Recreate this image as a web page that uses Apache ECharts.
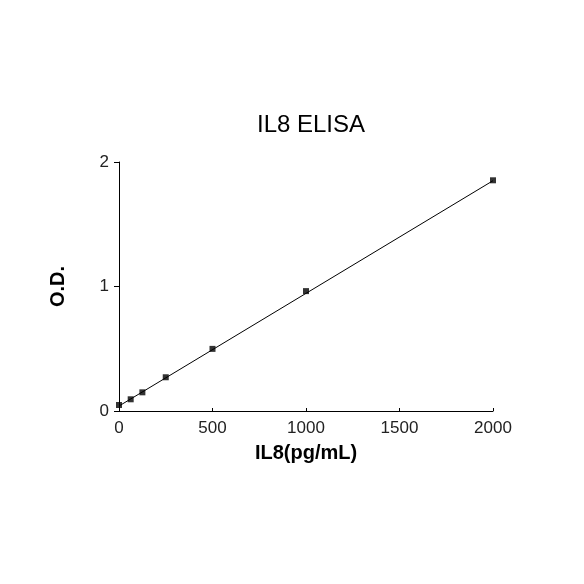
<!DOCTYPE html>
<html>
<head>
<meta charset="utf-8">
<script src="https://cdn.jsdelivr.net/npm/echarts@6/dist/echarts.min.js"></script>
<style>
  html, body { margin: 0; padding: 0; background: #fff; }
  #main { width: 584px; height: 584px; }
</style>
</head>
<body>
<div id="main"></div>
<script>
// standard concentrations (pg/mL) and measured O.D.
const concentrations = [0, 62.5, 125, 250, 500, 1000, 2000]
const odValues = [0.048, 0.094, 0.15, 0.271, 0.499, 0.963, 1.853]
// fitted line, ends
const fitX = [0, 2000]
const fitY = [0.04, 1.85]
const xTicks = [0, 500, 1000, 1500, 2000]
const yTicks = [0, 1, 2]

const font = 'Liberation Sans, Arial, sans-serif'

const chart = echarts.init(document.getElementById('main'), null, { renderer: 'canvas' })

chart.setOption({
    backgroundColor: '#fff',
    animation: false,
    title: {
        text: 'IL8 ELISA',
        left: 306,
        top: 108,
        textAlign: 'center',
        textStyle: { fontFamily: font, fontSize: 24, fontWeight: 'normal', color: '#000' }
    },
    grid: { left: 119, right: 91, top: 162, bottom: 173 },
    xAxis: {
        type: 'value',
        min: xTicks[0],
        max: xTicks[xTicks.length - 1],
        interval: 500,
        name: 'IL8(pg/mL)',
        nameLocation: 'middle',
        nameGap: 32,
        nameTextStyle: { fontFamily: font, fontSize: 20, fontWeight: 'bold', color: '#000' },
        axisLine: { lineStyle: { color: '#000', width: 1 } },
        axisTick: { inside: true, length: 3, lineStyle: { color: '#000' } },
        axisLabel: { fontFamily: font, fontSize: 17, color: '#222', margin: 9, formatter: v => String(v) },
        splitLine: { show: false }
    },
    yAxis: {
        type: 'value',
        min: yTicks[0],
        max: yTicks[yTicks.length - 1],
        interval: 1,
        name: 'O.D.',
        nameLocation: 'middle',
        nameGap: 51,
        nameTextStyle: { fontFamily: font, fontSize: 20, fontWeight: 'bold', color: '#000' },
        axisLine: { show: true, lineStyle: { color: '#000', width: 1 } },
        axisTick: { show: true, length: 5, lineStyle: { color: '#000' } },
        axisLabel: { fontFamily: font, fontSize: 17, color: '#222', margin: 10, formatter: v => String(v) },
        splitLine: { show: false }
    },
    series: [
        {
            type: 'line',
            data: fitX.map((x, i) => [x, fitY[i]]),
            symbol: 'none',
            lineStyle: { color: '#000', width: 1 },
            silent: true
        },
        {
            type: 'scatter',
            data: concentrations.map((c, i) => [c, odValues[i]]),
            symbol: 'rect',
            symbolSize: 6,
            itemStyle: { color: '#000' }
        }
    ]
})
</script>
</body>
</html>
